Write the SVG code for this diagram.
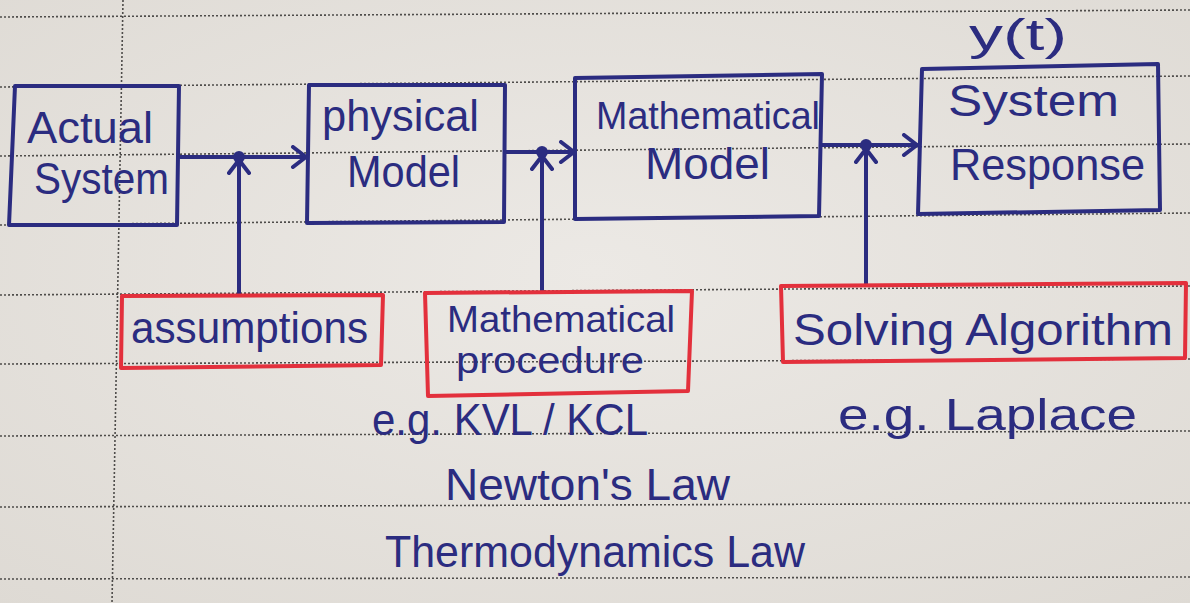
<svg xmlns="http://www.w3.org/2000/svg" width="1190" height="603" viewBox="0 0 1190 603">
<defs>
<style>
.rule{stroke:#4e4c4a;stroke-width:1.6;stroke-dasharray:2 2;fill:none}
.box{fill:none;stroke:#2b2c80;stroke-width:4;stroke-linejoin:round}
.rbox{fill:none;stroke:#e3303c;stroke-width:4;stroke-linejoin:round}
.wire{fill:none;stroke:#2b2c80;stroke-width:4;stroke-linecap:round}
.t{font-family:"Liberation Sans","Open Sans",sans-serif;fill:#2b2c80;font-size:44px}
.s{font-size:38px}
.p{font-size:36px}
</style>
<radialGradient id="paper" cx="50%" cy="45%" r="75%">
<stop offset="0" stop-color="#ece9e5"/>
<stop offset="1" stop-color="#dedad4"/>
</radialGradient>
<marker id="ah" viewBox="-16 -12 20 24" refX="0" refY="0" markerWidth="20" markerHeight="24" markerUnits="userSpaceOnUse" orient="auto">
<path d="M -13 -10 L 0 0 L -13 10" fill="none" stroke="#2b2c80" stroke-width="4" stroke-linecap="round" stroke-linejoin="round"/>
</marker>
</defs>
<rect x="0" y="0" width="1190" height="603" fill="url(#paper)"/>
<g id="ruling">
<line class="rule" x1="0" y1="17" x2="1190" y2="10"/>
<line class="rule" x1="0" y1="87" x2="1190" y2="76"/>
<line class="rule" x1="0" y1="156" x2="1190" y2="144"/>
<line class="rule" x1="0" y1="225" x2="1190" y2="213"/>
<line class="rule" x1="0" y1="295" x2="1190" y2="286"/>
<line class="rule" x1="0" y1="364" x2="1190" y2="359"/>
<line class="rule" x1="0" y1="436" x2="1190" y2="431"/>
<line class="rule" x1="0" y1="507" x2="1190" y2="503"/>
<line class="rule" x1="0" y1="579" x2="1190" y2="577"/>
<line class="rule" x1="123" y1="0" x2="112" y2="603"/>
</g>
<g id="connectors">
<path class="wire" d="M 180 157 L 306 157" marker-end="url(#ah)"/>
<path class="wire" d="M 239 295 L 239 160" marker-end="url(#ah)"/>
<circle cx="239" cy="157" r="6" fill="#2b2c80"/>
<path class="wire" d="M 505 152 L 574 152" marker-end="url(#ah)"/>
<path class="wire" d="M 542 292 L 542 156" marker-end="url(#ah)"/>
<circle cx="542" cy="152" r="6" fill="#2b2c80"/>
<path class="wire" d="M 822 145 L 917 145" marker-end="url(#ah)"/>
<path class="wire" d="M 866 285 L 866 149" marker-end="url(#ah)"/>
<circle cx="866" cy="145" r="6" fill="#2b2c80"/>
</g>
<g id="actual-system">
<path class="box" d="M 15 86 L 179 86 L 177 225 L 9 225 Z"/>
<text class="t" x="27" y="143" textLength="126" lengthAdjust="spacingAndGlyphs">Actual</text>
<text class="t" x="34" y="194" textLength="135" lengthAdjust="spacingAndGlyphs">System</text>
</g>
<g id="physical-model">
<path class="box" d="M 309 85 L 505 85 L 504 222 L 307 223 Z"/>
<text class="t" x="322" y="131" textLength="157" lengthAdjust="spacingAndGlyphs">physical</text>
<text class="t" x="347" y="187" textLength="113" lengthAdjust="spacingAndGlyphs">Model</text>
</g>
<g id="mathematical-model">
<path class="box" d="M 575 78 L 822 74 L 819 216 L 575 219 Z"/>
<text class="t s" x="596" y="129" textLength="224" lengthAdjust="spacingAndGlyphs">Mathematical</text>
<text class="t" x="645" y="179" textLength="125" lengthAdjust="spacingAndGlyphs">Model</text>
</g>
<g id="system-response">
<path class="box" d="M 922 69 L 1158 64 L 1160 210 L 918 214 Z"/>
<text class="t" x="969" y="50" textLength="98" lengthAdjust="spacingAndGlyphs">y(t)</text>
<text class="t" x="948" y="116" textLength="171" lengthAdjust="spacingAndGlyphs">System</text>
<text class="t" x="950" y="180" textLength="195" lengthAdjust="spacingAndGlyphs">Response</text>
</g>
<g id="assumptions">
<path class="rbox" d="M 122 296 L 383 295 L 381 365 L 121 368 Z"/>
<text class="t" x="131" y="343" textLength="237" lengthAdjust="spacingAndGlyphs">assumptions</text>
</g>
<g id="mathematical-procedure">
<path class="rbox" d="M 425 293 L 692 291 L 688 391 L 428 396 Z"/>
<text class="t p" x="447" y="332" textLength="228" lengthAdjust="spacingAndGlyphs">Mathematical</text>
<text class="t p" x="456" y="373" textLength="188" lengthAdjust="spacingAndGlyphs">procedure</text>
</g>
<g id="procedure-examples">
<text class="t" x="372" y="435" textLength="276" lengthAdjust="spacingAndGlyphs">e.g. KVL / KCL</text>
<text class="t" x="445" y="500" textLength="285" lengthAdjust="spacingAndGlyphs">Newton's Law</text>
<text class="t" x="385" y="567" textLength="420" lengthAdjust="spacingAndGlyphs">Thermodynamics Law</text>
</g>
<g id="solving-algorithm">
<path class="rbox" d="M 781 286 L 1186 283 L 1185 358 L 783 362 Z"/>
<text class="t" x="793" y="345" textLength="380" lengthAdjust="spacingAndGlyphs">Solving Algorithm</text>
<text class="t" x="838" y="430" textLength="299" lengthAdjust="spacingAndGlyphs">e.g. Laplace</text>
</g>
</svg>
